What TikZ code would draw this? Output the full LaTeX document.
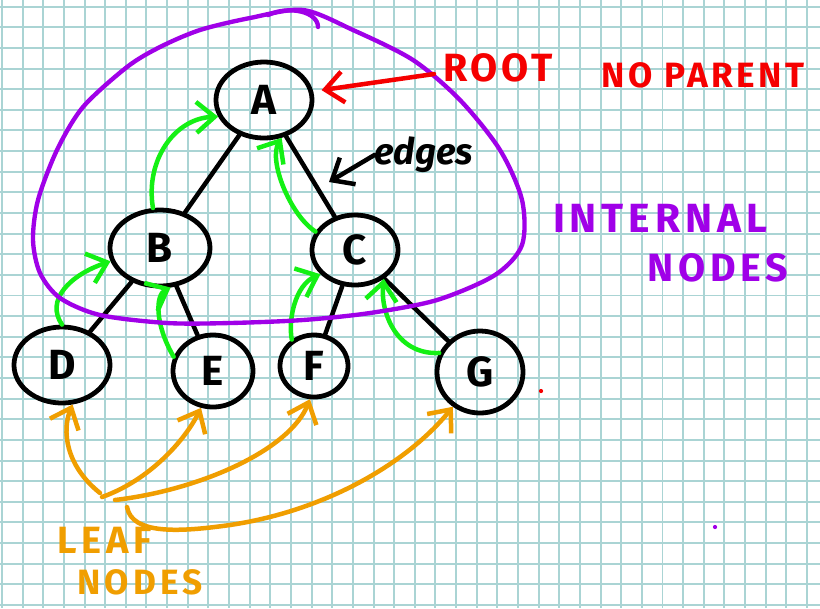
\documentclass[tikz,border=0pt]{standalone}
\usepackage{fontspec}
\setmainfont{Fira Sans}
\usetikzlibrary{shapes.geometric,arrows.meta}

\definecolor{gridcol}{RGB}{170,212,212}
\definecolor{inkpurple}{RGB}{160,0,232}
\definecolor{inkred}{RGB}{245,0,0}
\definecolor{inkgreen}{RGB}{20,240,20}
\definecolor{inkorange}{RGB}{240,158,0}

\begin{document}
\begin{tikzpicture}[x=0.025cm, y=-0.025cm,
    gridline/.style={gridcol, line width=1.4pt},
    treenode/.style={ellipse, draw, line width=3.4pt, inner sep=0pt,
        font=\fontsize{30}{30}\selectfont\bfseries},
    treeedge/.style={line width=3.2pt, line cap=round},
    barb/.style={line width=3.2pt, line cap=round, line join=round,
        -{Straight Barb[length=13pt,width=22pt]}},
    childptr/.style={barb, inkgreen},
    leafptr/.style={barb, inkorange},
    hull/.style={inkpurple, line width=3.1pt, line cap=round},
    note/.style={inner sep=0pt, font=\fontsize{#1}{#1}\selectfont\bfseries},
    note/.default=28]

    % Sheet of squared paper
    \useasboundingbox (0,0) rectangle (820,608);
    \fill[white] (0,0) rectangle (820,608);
    \foreach \i in {0,...,39}
        \draw[gridline] ({2+20.64*\i},0) -- ({2+20.64*\i},608);
    \foreach \j in {0,...,29}
        \draw[gridline] (0,{6.67+20.63*\j}) -- (820,{6.67+20.63*\j});

    % Draw the tree nodes
    \node[treenode, minimum width=2.4cm, minimum height=1.9cm] (A) at (264,100) {A};
    \node[treenode, minimum width=2.5cm, minimum height=1.9cm] (B) at (160,248) {B};
    \node[treenode, minimum width=2.15cm, minimum height=1.75cm] (C) at (355,250) {C};
    \node[treenode, minimum width=2.4cm, minimum height=1.9cm] (D) at (62,365) {D};
    \node[treenode, minimum width=2.0cm, minimum height=1.8cm] (E) at (213,371) {E};
    \node[treenode, minimum width=1.7cm, minimum height=1.55cm] (F) at (314,366) {F};
    \node[treenode, minimum width=2.15cm, minimum height=2.05cm] (G) at (480,372) {G};

    % Draw the edges
    \draw[treeedge] (A) -- (B);
    \draw[treeedge] (A) -- (C);
    \draw[treeedge] (B) -- (D);
    \draw[treeedge] (B) -- (E);
    \draw[treeedge] (C) -- (F);
    \draw[treeedge] (C) -- (G);

    % Child to parent arrows
    \draw[childptr] (B.100) .. controls (145,160) and (175,118) .. (A.200);
    \draw[childptr] (C.155) .. controls (290,215) and (268,160) .. (A.295);
    \draw[childptr] (D.90) .. controls (45,300) and (70,275) .. (B.195);
    \draw[childptr] (E.160) .. controls (155,325) and (155,295) .. (B.285);
    \draw[childptr] (F.130) .. controls (288,320) and (295,285) .. (C.215);
    \draw[childptr] (G.155) .. controls (395,355) and (380,310) .. (C.315);

    % Internal nodes boundary
    \draw[hull] plot[smooth cycle] coordinates {(303,10) (353,30) (413,60)
        (460,100) (500,150) (522,200) (522,245) (495,275) (437,300) (370,313)
        (303,320) (230,323) (167,323) (100,315) (60,298) (40,273) (33,240)
        (38,200) (57,150) (83,107) (127,67) (160,47) (200,30) (250,18)};
    \draw[hull] (268,15) .. controls (290,5) and (318,12) .. (318,27);

    % Root label
    \node[note, inkred] (root) at (498,68) {\addfontfeature{LetterSpace=10}ROOT};
    \node[note=25, inkred] (noparent) at (703,75) {\addfontfeature{LetterSpace=10}NO PARENT};
    \coordinate (rootfrom) at (434,74);
    \draw[barb, inkred, shorten >=6pt] (rootfrom) -- (A.10);

    % Edges label
    \node[note=26, font=\fontsize{26}{26}\selectfont\bfseries\itshape] (edgelbl) at (424,155) {edges};
    \coordinate (edgept) at (329,182);
    \draw[barb] (edgelbl.west) -- (edgept);

    % Internal nodes label
    \node[note=29, inkpurple] (internal) at (660,218) {\addfontfeature{LetterSpace=12}INTERNAL};
    \node[note, inkpurple] (internalnodes) at (718,268) {\addfontfeature{LetterSpace=12}NODES};

    % Leaf nodes label and arrows
    \node[note=27, inkorange] (leaf) at (105,540) {\addfontfeature{LetterSpace=12}LEAF};
    \node[note=25, inkorange] (leafnodes) at (140,582) {\addfontfeature{LetterSpace=12}NODES};
    \coordinate (leafD) at (100,493);
    \coordinate (leafE) at (102,497);
    \coordinate (leafF) at (115,500);
    \coordinate (leafG) at (127,507);
    \draw[leafptr] (leafD) .. controls (65,465) and (62,430) .. (D.285);
    \draw[leafptr] (leafE) .. controls (150,480) and (185,440) .. (E.252);
    \draw[leafptr] (leafF) .. controls (200,490) and (290,450) .. (F.263);
    \draw[leafptr] (leafG) .. controls (132,535) and (180,532) .. (230,525)
        .. controls (330,510) and (410,460) .. (G.232);

    % Stray dots
    \fill[inkred] (541,391) circle (1.5pt);
    \fill[inkpurple] (715,527) circle (1.5pt);
\end{tikzpicture}
\end{document}
